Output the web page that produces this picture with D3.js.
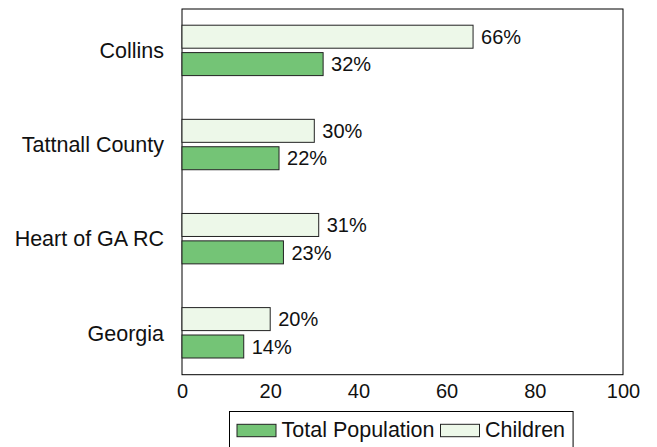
<!DOCTYPE html>
<html>
<head>
<meta charset="utf-8">
<script src="https://cdn.jsdelivr.net/npm/d3@7"></script>
<style>
  body { margin: 0; background: #fff; }
  svg { display: block; font-family: "Liberation Sans", Arial, sans-serif; }
</style>
</head>
<body>
<svg id="chart" width="657" height="447"></svg>
<script>
// Chart data
const categories = ['Collins', 'Tattnall County', 'Heart of GA RC', 'Georgia'];
const totalPopulation = [32, 22, 23, 14];
const children = [66, 30, 31, 20];
const xTicks = [0, 20, 40, 60, 80, 100];
const seriesNames = ['Total Population', 'Children'];

const COLOR_TOTAL = '#74c476';
const COLOR_CHILD = '#edf8e9';
const NUM_SIZE = 20;   // digits
const WORD_SIZE = 21.5; // category and legend text

const svg = d3.select('#chart');

// Plot frame
const plot = { left: 182, right: 623, top: 9, bottom: 374.7 };

const xScale = d3.scaleLinear().domain([0, 100]).range([plot.left, plot.right]);
const yScale = d3.scalePoint().domain(categories).range([50.4, 332.8]);

const BAR_H = 23;
const GAP = 2.2;

// Frame
svg.append('rect')
    .attr('x', plot.left)
    .attr('y', plot.top)
    .attr('width', plot.right - plot.left)
    .attr('height', plot.bottom - plot.top)
    .attr('fill', 'none')
    .attr('stroke', '#000')
    .attr('stroke-width', 1);

// Bars: children above, total population below
const rows = categories.map((cat, i) => ({ cat, total: totalPopulation[i], child: children[i] }));

const drawSeries = (key, color, offset) => {
    svg.selectAll(`.bar-${key}`)
        .data(rows)
        .enter()
        .append('rect')
        .attr('class', `bar-${key}`)
        .attr('x', xScale(0))
        .attr('y', (d) => yScale(d.cat) + offset)
        .attr('width', (d) => xScale(d[key]) - xScale(0))
        .attr('height', BAR_H)
        .attr('fill', color)
        .attr('stroke', '#222')
        .attr('stroke-width', 1);

    svg.selectAll(`.label-${key}`)
        .data(rows)
        .enter()
        .append('text')
        .attr('class', `label-${key}`)
        .attr('x', (d) => xScale(d[key]) + 8)
        .attr('y', (d) => yScale(d.cat) + offset + BAR_H / 2)
        .attr('dy', '0.36em')
        .attr('font-size', NUM_SIZE)
        .attr('fill', '#111')
        .text((d) => `${d[key]}%`);
};

drawSeries('child', COLOR_CHILD, -BAR_H - GAP);
drawSeries('total', COLOR_TOTAL, GAP);

// Category labels
svg.selectAll('.cat-label')
    .data(categories)
    .enter()
    .append('text')
    .attr('class', 'cat-label')
    .attr('x', plot.left - 18)
    .attr('y', (d) => yScale(d))
    .attr('dy', '0.36em')
    .attr('text-anchor', 'end')
    .attr('font-size', WORD_SIZE)
    .attr('fill', '#111')
    .text((d) => d);

// X axis (labels only)
const xAxis = svg.append('g')
    .attr('transform', `translate(0,${plot.bottom})`)
    .call(d3.axisBottom(xScale).tickValues(xTicks).tickSize(0).tickPadding(9));
xAxis.select('.domain').remove();
xAxis.selectAll('text')
    .attr('font-size', NUM_SIZE)
    .attr('font-family', '"Liberation Sans", Arial, sans-serif')
    .attr('fill', '#111');

// Legend
const legend = svg.append('g');
const legendBox = legend.append('rect')
    .attr('x', 229.5)
    .attr('y', 411.5)
    .attr('height', 42)
    .attr('fill', '#fff')
    .attr('stroke', '#000')
    .attr('stroke-width', 1);

let lx = 237;
[COLOR_TOTAL, COLOR_CHILD].forEach((color, i) => {
    legend.append('rect')
        .attr('x', lx)
        .attr('y', 424.3)
        .attr('width', 39)
        .attr('height', 12.4)
        .attr('fill', color)
        .attr('stroke', '#222')
        .attr('stroke-width', 1);
    const t = legend.append('text')
        .attr('x', lx + 44.5)
        .attr('y', 437)
        .attr('font-size', WORD_SIZE)
        .attr('fill', '#111')
        .text(seriesNames[i]);
    lx = lx + 44.5 + t.node().getComputedTextLength() + 6;
});
legendBox.attr('width', lx - 229.5 + 2);
</script>
</body>
</html>
